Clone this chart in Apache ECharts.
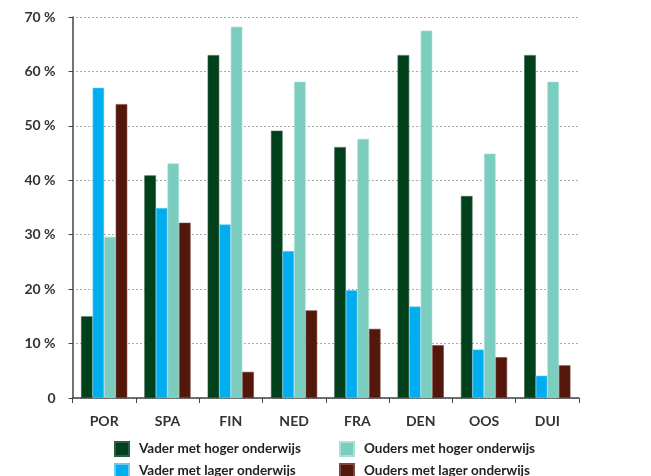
<!DOCTYPE html>
<html><head><meta charset="utf-8">
<script src="https://cdn.jsdelivr.net/npm/echarts@6/dist/echarts.min.js"></script>
<style>html,body{margin:0;padding:0;background:#fff}#c{width:651px;height:476px}</style>
</head><body><div id="c"></div>
<script>
const categories = ['POR','SPA','FIN','NED','FRA','DEN','OOS','DUI'];
const seriesNames = ['Vader met hoger onderwijs','Vader met lager onderwijs','Ouders met hoger onderwijs','Ouders met lager onderwijs'];
const vaderHoger  = [15.0, 40.9, 63.0, 49.1, 46.1, 63.0, 37.1, 63.0];
const vaderLager  = [57.0, 34.9, 31.9, 27.0, 19.8, 16.8, 8.9, 4.1];
const oudersHoger = [29.6, 43.1, 68.2, 58.1, 47.6, 67.5, 44.9, 58.1];
const oudersLager = [54.0, 32.2, 4.8, 16.1, 12.7, 9.7, 7.5, 6.0];
const yTicks = [0,10,20,30,40,50,60,70];

const colors = ['#00401b','#00aeef','#7bcdc0','#53170b'];
const borders = ['#2f5e40','#6cc9f2','#a9e0d7','#7a4a40'];
const values = [vaderHoger, vaderLager, oudersHoger, oudersLager];
const font = 'Lato, "Open Sans", sans-serif';

const chart = echarts.init(document.getElementById('c'));
const legendPos = [[114,441],[114,463],[339,441],[339,463]];
chart.setOption({
  animation:false,
  grid:{left:72.5, right:72, top:17, bottom:78},
  xAxis:{type:'category', data:categories,
    axisLine:{lineStyle:{color:'#444', width:1.5}},
    axisTick:{show:true, length:5, lineStyle:{color:'#444'}},
    axisLabel:{color:'#333', fontFamily:font, fontWeight:'bold', fontSize:14, margin:16}},
  yAxis:{type:'value', min:0, max:70, interval:10,
    axisLine:{show:true, lineStyle:{color:'#444', width:1.5}},
    axisTick:{show:true, length:4, lineStyle:{color:'#444'}},
    splitLine:{lineStyle:{color:'#555', type:[1,3], width:1}},
    axisLabel:{color:'#333', fontFamily:font, fontWeight:'bold', fontSize:14, margin:17,
      formatter:v => yTicks.includes(v) ? (v===0 ? '0' : v + ' %') : ''}},
  legend: seriesNames.map((n,i)=>({data:[n], left:legendPos[i][0], top:legendPos[i][1],
    padding:0, itemWidth:14, itemHeight:14, itemGap:0, icon:'rect',
    textStyle:{color:'#222', fontFamily:font, fontSize:13.5, fontWeight:'bold', padding:[0,0,0,5]}})),
  series: seriesNames.map((n,i)=>({name:n, type:'bar', data:values[i],
    barGap:'0%', barCategoryGap:'27%',
    itemStyle:{color:colors[i], borderColor:borders[i], borderWidth:0.6}}))
});
</script></body></html>
